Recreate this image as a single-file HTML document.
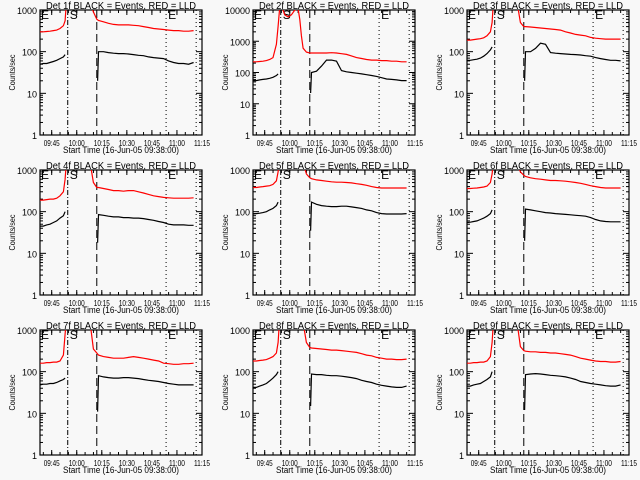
<!DOCTYPE html>
<html><head><meta charset="utf-8"><style>
html,body{margin:0;padding:0;background:#f8f8f8;}
svg{display:block;font-family:"Liberation Sans",sans-serif;}
</style></head><body>
<svg id="c" width="640" height="480" viewBox="0 0 640 480"></svg>
<script>
// shared time grid (minutes after 09:38)
const preT = [0,2,4,6,8,10,12,14,15,16];
const tailT = [30,32,34];
const postT = [35,38,41,44,47,50,53,56,59,62,65,68,71,74,77,80,83,86,89,92];
const tickLabels = ["09:45","10:00","10:15","10:30","10:45","11:00","11:15"];
const tickMinutes = [7,22,37,52,67,82,97];
const eventLines = [16.6,34,75.5,93.5];
const detNames = ["1f","2f","3f","4f","5f","6f","7f","8f","9f"];
const yMax = [1000,10000,1000,1000,1000,1000,1000,1000,1000];
const redPre = [
 [300,300,305,310,320,330,360,420,550,2000],
 [220,220,225,230,240,260,300,800,3000,12000],
 [190,190,195,200,205,215,240,300,500,2000],
 [190,190,195,200,200,210,240,300,600,2000],
 [380,380,390,400,410,420,450,550,900,2000],
 [360,360,365,370,380,390,410,500,800,2000],
 [160,160,165,165,170,170,180,250,800,2000],
 [180,180,185,190,195,210,230,280,500,2000],
 [160,160,165,165,170,170,180,230,500,2000]];
const redTail = [[1500,900,600],[1500,500,420],[1500,500,400],[1500,500,380],[1500,800,650],[1500,900,750],[1500,350,280],[1500,500,380],[1500,400,320]];
const redPost = [
 [560,520,480,450,440,440,440,430,420,400,380,360,350,340,330,320,320,310,310,320],
 [420,420,420,420,430,420,400,380,340,300,280,260,250,250,240,240,230,230,220,220],
 [400,390,380,370,360,350,340,330,300,280,260,250,240,220,210,205,200,200,200,200],
 [380,360,340,320,320,310,320,320,300,280,260,240,230,220,215,210,210,210,210,215],
 [620,580,560,540,520,510,510,500,490,470,450,430,400,380,370,370,370,370,370,370],
 [700,650,620,600,580,560,560,550,540,520,500,480,450,420,400,380,370,370,370,370],
 [250,230,220,210,210,210,220,230,220,210,200,190,180,160,155,150,150,155,155,160],
 [370,360,350,340,330,330,320,310,300,290,270,250,240,220,210,200,200,195,195,200],
 [310,300,300,290,290,280,280,270,260,250,230,210,200,190,180,175,175,170,170,175]];
// panel 2 red in-gap hump
const gapT = [17,18,19,21,23,25,27,28,29,30,32,34];
const gapV = [12000,10000,7000,6000,7000,10000,11000,5000,1500,600,450,420];
const blackPre = [
 [50,52,52,55,58,62,68,75,85,95],
 [55,55,58,60,62,65,70,80,90,100],
 [62,62,64,66,70,78,90,110,130,150],
 [45,45,48,50,55,60,70,80,100,130],
 [88,90,92,95,100,110,120,140,170,200],
 [55,56,58,60,65,70,78,90,110,130],
 [48,50,50,52,52,55,60,65,70,75],
 [42,42,45,48,52,60,70,85,100,110],
 [45,45,48,50,52,58,65,75,100,130]];
const blackDip = [20,22,20,18,35,20,11,15,12];
const blackPost = [
 [100,100,95,92,90,90,88,85,82,80,75,72,70,68,60,55,52,52,50,55],
 [100,110,160,250,250,230,115,105,100,95,90,85,80,75,68,62,60,58,55,55],
 [100,100,120,160,150,95,92,90,88,86,85,83,80,78,72,68,65,62,62,60],
 [85,82,78,75,75,72,72,70,70,68,65,62,58,55,50,48,48,48,47,47],
 [170,150,140,135,132,132,135,135,130,125,120,110,105,95,90,88,88,88,88,90],
 [115,110,105,100,95,93,90,88,86,84,82,80,78,72,65,60,58,57,57,57],
 [80,75,72,70,70,72,72,70,68,65,62,60,58,55,52,50,48,48,48,48],
 [88,85,85,82,80,80,78,75,72,68,62,58,55,50,47,45,43,42,42,45],
 [85,88,90,88,85,82,80,78,75,70,65,58,55,52,50,48,46,45,45,48]];

const NS="http://www.w3.org/2000/svg";
const svg=document.getElementById('c');
function mk(tag,attrs,parent){const e=document.createElementNS(NS,tag);for(const k in attrs)e.setAttribute(k,attrs[k]);(parent||svg).appendChild(e);return e;}
const defs=mk('defs',{});
const PW=640/3, PH=160, BL=40, BR=202, BT=10, BB=135, TMAX=97;
for(let p=0;p<9;p++){
  const ox=Math.round((p%3)*PW), oy=Math.floor(p/3)*PH;
  const x0=ox+BL, x1=ox+BR, y0=oy+BT, y1=oy+BB;
  const ym=yMax[p], dec=Math.log10(ym);
  const X=t=>x0+(x1-x0)*t/TMAX;
  const Y=v=>y1-(y1-y0)*Math.log10(v)/dec;
  const g=mk('g',{});
  
  
  const cp=mk('clipPath',{id:'cp'+p},defs);
  mk('rect',{x:x0,y:y0,width:x1-x0,height:y1-y0},cp);
  const t=mk('text',{x:(x0+x1)/2,y:oy+9,'text-anchor':'middle','font-size':'10',textLength:150,lengthAdjust:'spacingAndGlyphs'},g);
  t.textContent='Det '+detNames[p]+' BLACK = Events, RED = LLD';
  
  
  const yl=mk('text',{x:0,y:0,'text-anchor':'middle','font-size':'8',textLength:36,lengthAdjust:'spacingAndGlyphs',transform:`translate(${ox+15},${(y0+y1)/2}) rotate(-90)`},g);
  yl.textContent='Counts/sec';
  
  
  const xl=mk('text',{x:(x0+x1)/2,y:oy+153,'text-anchor':'middle','font-size':'9',textLength:116,lengthAdjust:'spacingAndGlyphs'},g);
  xl.textContent='Start Time (16-Jun-05 09:38:00)';
  
  
  const fr=mk('rect',{x:x0,y:y0,width:x1-x0,height:y1-y0,fill:'none',stroke:'#000','stroke-width':1.2},g);
  
  
  for(let d=0;d<=dec;d++){
    const v=Math.pow(10,d), y=Y(v);
    mk('line',{x1:x0,x2:x0+6,y1:y,y2:y,stroke:'#000'},g);
    mk('line',{x1:x1,x2:x1-6,y1:y,y2:y,stroke:'#000'},g);
    const tl=mk('text',{x:x0-3,y:y+4,'text-anchor':'end','font-size':'9'},g);
    tl.textContent=String(v);
    
    
    if(d<dec) for(let m=2;m<10;m++){const yy=Y(m*v);
      mk('line',{x1:x0,x2:x0+3,y1:yy,y2:yy,stroke:'#000'},g);
      mk('line',{x1:x1,x2:x1-3,y1:yy,y2:yy,stroke:'#000'},g);}
  }
  for(let i=0;i<tickMinutes.length;i++){
    const x=X(tickMinutes[i]);
    mk('line',{x1:x,x2:x,y1:y1,y2:y1-5,stroke:'#000'},g);
    mk('line',{x1:x,x2:x,y1:y0,y2:y0+5,stroke:'#000'},g);
    const tl=mk('text',{x:x,y:oy+146,'text-anchor':'middle','font-size':'8',textLength:16,lengthAdjust:'spacingAndGlyphs'},g);
    tl.textContent=tickLabels[i];
    
    
  }
  for(let m=2;m<TMAX;m+=5){const x=X(m);
    mk('line',{x1:x,x2:x,y1:y1,y2:y1-3,stroke:'#000'},g);
    mk('line',{x1:x,x2:x,y1:y0,y2:y0+3,stroke:'#000'},g);}
  const dash=['5,2,1,2','8,4','1,3','1,3'];
  eventLines.forEach((tm,i)=>{
    const l=mk('line',{x1:X(tm),x2:X(tm),y1:y0,y2:y1,stroke:'#000','stroke-dasharray':dash[i]},g);
    
    
  });
  [['E',x0+1],['S',X(eventLines[0])+2],['E',X(eventLines[2])+2]].forEach(([s,x])=>{
    const e=mk('text',{x:x,y:y0+9,'font-size':'12'},g);
    e.textContent=s;
    
    
  });
  const cg=mk('g',{'clip-path':`url(#cp${p})`},g);
  const pts=(ts,vs)=>ts.map((tt,i)=>X(tt).toFixed(1)+','+Y(vs[i]).toFixed(1)).join(' ');
  const r1=mk('polyline',{points:pts(preT,redPre[p])+' '+X(16.5).toFixed(1)+','+(y0-20),fill:'none',stroke:'#ff0000','stroke-width':1.2},cg);
  
  
  let post;
  if(p===1) post=pts(gapT,gapV)+' '+pts(postT,redPost[p]);
  else post=X(29.5).toFixed(1)+','+(y0-20)+' '+pts(tailT,redTail[p])+' '+pts(postT,redPost[p]);
  const r2=mk('polyline',{points:post,fill:'none',stroke:'#ff0000','stroke-width':1.2},cg);
  
  
  const b1=mk('polyline',{points:pts(preT.slice(0,9),blackPre[p].slice(0,9)),fill:'none',stroke:'#000','stroke-width':1.2},cg);
  
  
  const b2=mk('polyline',{points:pts([34.5],[blackDip[p]])+' '+pts(postT,blackPost[p]),fill:'none',stroke:'#000','stroke-width':1.2},cg);
  
  
}
</script>
</body></html>
